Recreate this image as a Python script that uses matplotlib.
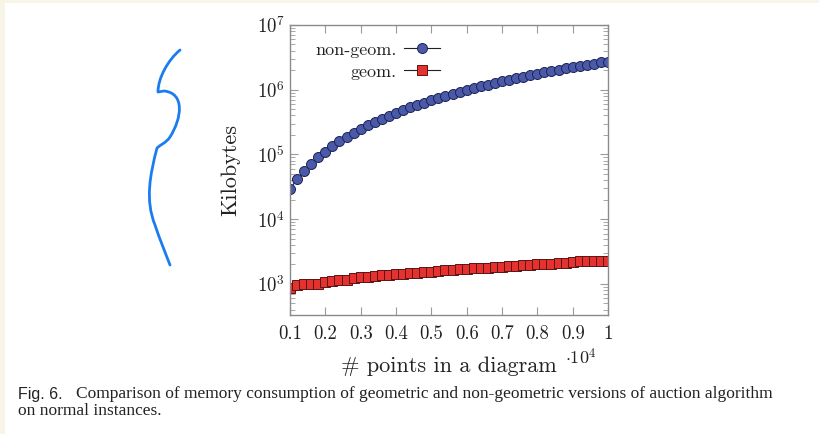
import numpy as np
import matplotlib
matplotlib.use("Agg")
import matplotlib.pyplot as plt
from matplotlib.patches import Rectangle, PathPatch
from matplotlib.path import Path

plt.rcParams['font.family'] = 'cmr10'
plt.rcParams['mathtext.fontset'] = 'cm'
plt.rcParams['axes.unicode_minus'] = False

# dati (x in unità di 10^4 punti)
punti = [0.10, 0.12, 0.14, 0.16, 0.18, 0.20, 0.22, 0.24, 0.26, 0.28,
         0.30, 0.32, 0.34, 0.36, 0.38, 0.40, 0.42, 0.44, 0.46, 0.48,
         0.50, 0.52, 0.54, 0.56, 0.58, 0.60, 0.62, 0.64, 0.66, 0.68,
         0.70, 0.72, 0.74, 0.76, 0.78, 0.80, 0.82, 0.84, 0.86, 0.88,
         0.90, 0.92, 0.94, 0.96, 0.98, 1.00]

non_geom = [29000, 42000, 55000, 71000, 90000, 111000, 134000, 159000, 186000, 216000,
            248000, 282000, 318000, 357000, 398000, 441000, 486000, 533000, 583000, 634000,
            688000, 744000, 802000, 862000, 925000, 990000, 1057000, 1126000, 1198000, 1272000,
            1348000, 1426000, 1506000, 1589000, 1674000, 1760000, 1850000, 1941000, 2035000, 2130000,
            2228000, 2328000, 2430000, 2535000, 2641000, 2720000]

geom = [870, 960, 980, 990, 1010, 1080, 1110, 1140, 1170, 1220,
        1260, 1290, 1320, 1350, 1380, 1410, 1440, 1470, 1490, 1520,
        1545, 1580, 1620, 1650, 1690, 1730, 1750, 1770, 1790, 1820,
        1850, 1880, 1910, 1940, 1970, 2000, 2030, 2060, 2090, 2110,
        2220, 2230, 2240, 2250, 2265, 2280]

xtick_val = [0.1, 0.2, 0.3, 0.4, 0.5, 0.6, 0.7, 0.8, 0.9, 1.0]
xtick_lab = ["0.1", "0.2", "0.3", "0.4", "0.5", "0.6", "0.7", "0.8", "0.9", "1"]
ytick_val = [1e3, 1e4, 1e5, 1e6, 1e7]
ytick_lab = [r"$10^{3}$", r"$10^{4}$", r"$10^{5}$", r"$10^{6}$", r"$10^{7}$"]

W, H = 819, 434

# scarabocchio blu a sinistra (pixel dell'immagine, curve di Bezier)
scribble_pts = [(180, 50), (168, 60), (158, 78), (158, 92),
                (164, 91),
                (185, 93), (182, 118), (170, 137),
                (166, 143), (160, 145), (157, 148),
                (150, 175), (145, 200), (155, 225),
                (160, 240), (165, 252), (170, 265)]
scribble_codes = ([Path.MOVETO] + [Path.CURVE4] * 3 + [Path.LINETO]
                  + [Path.CURVE4] * 12)

fig = plt.figure(figsize=(W / 100, H / 100), dpi=100)
fig.patch.set_facecolor("white")

# bordi color crema
crema = "#f8f5e7"
fig.patches.append(Rectangle((0, 1 - 3 / H), 1, 3 / H, transform=fig.transFigure,
                             facecolor=crema, edgecolor="none", zorder=0))
fig.patches.append(Rectangle((0, 0), 5 / W, 1, transform=fig.transFigure,
                             facecolor=crema, edgecolor="none", zorder=0))

ax = fig.add_axes([290 / W, 1 - 315 / H, 318 / W, 290 / H])

ax.plot(punti, non_geom, color="#222222", lw=0.8, marker="o", markersize=7.2,
        markerfacecolor="#4a59a8", markeredgecolor="#1c2456", markeredgewidth=0.7,
        label="non-geom.")
ax.plot(punti, geom, color="#222222", lw=0.8, marker="s", markersize=7.2,
        markerfacecolor="#e5322f", markeredgecolor="#5a1414", markeredgewidth=0.7,
        label="geom.")

ax.set_yscale("log")
ax.set_xlim(0.1, 1.0)
ax.set_ylim(10 ** 2.52, 1e7)
ax.set_xticks(xtick_val)
ax.set_xticklabels(xtick_lab)
ax.set_yticks(ytick_val)
ax.set_yticklabels(ytick_lab)
ax.yaxis.set_minor_locator(matplotlib.ticker.LogLocator(base=10, subs=np.arange(2, 10)))
ax.yaxis.set_minor_formatter(matplotlib.ticker.NullFormatter())
ax.xaxis.set_minor_locator(matplotlib.ticker.NullLocator())

for s in ax.spines.values():
    s.set_color("#8a8a8a")
    s.set_linewidth(1.0)
ax.tick_params(which="both", direction="in", top=True, right=True, color="#9a9a9a")
ax.tick_params(which="major", length=6, width=0.8, labelsize=13.5, labelcolor="#222222")
ax.tick_params(axis="y", which="major", pad=4)
ax.tick_params(axis="x", which="major", pad=7)
ax.tick_params(which="minor", length=3.5, width=0.6)

ax.set_xlabel("# points in a diagram", fontsize=16, color="#222222", labelpad=10)
ax.set_ylabel("Kilobytes", fontsize=16, color="#222222", labelpad=12)
fig.text(565 / W, 1 - 364 / H, r"$\cdot 10^{4}$", fontsize=13, color="#222222",
         ha="left", va="baseline")

leg = ax.legend(loc="upper left", bbox_to_anchor=(0.04, 0.985), frameon=False,
                markerfirst=False, fontsize=13, handlelength=2.0, labelspacing=0.35,
                handletextpad=0.4, borderaxespad=0.3)
for t in leg.get_texts():
    t.set_color("#222222")

scribble_path = Path([(x / W, 1 - y / H) for x, y in scribble_pts], scribble_codes)
fig.patches.append(PathPatch(scribble_path, transform=fig.transFigure, facecolor="none",
                             edgecolor="#1b7cf0", lw=2.0, capstyle="round",
                             joinstyle="round"))

# didascalia
fig.text(18 / W, 1 - 394 / H, "Fig. 6.", family="Liberation Sans", fontsize=11.5,
         color="#222222", va="center")
fig.text(76 / W, 1 - 394 / H,
         "Comparison of memory consumption of geometric and non-geometric versions of auction algorithm",
         family="Liberation Serif", fontsize=12.5, color="#222222", va="center")
fig.text(18 / W, 1 - 411 / H, "on normal instances.", family="Liberation Serif",
         fontsize=12.5, color="#222222", va="center")

fig.savefig("out.png", dpi=100, facecolor=fig.get_facecolor())
